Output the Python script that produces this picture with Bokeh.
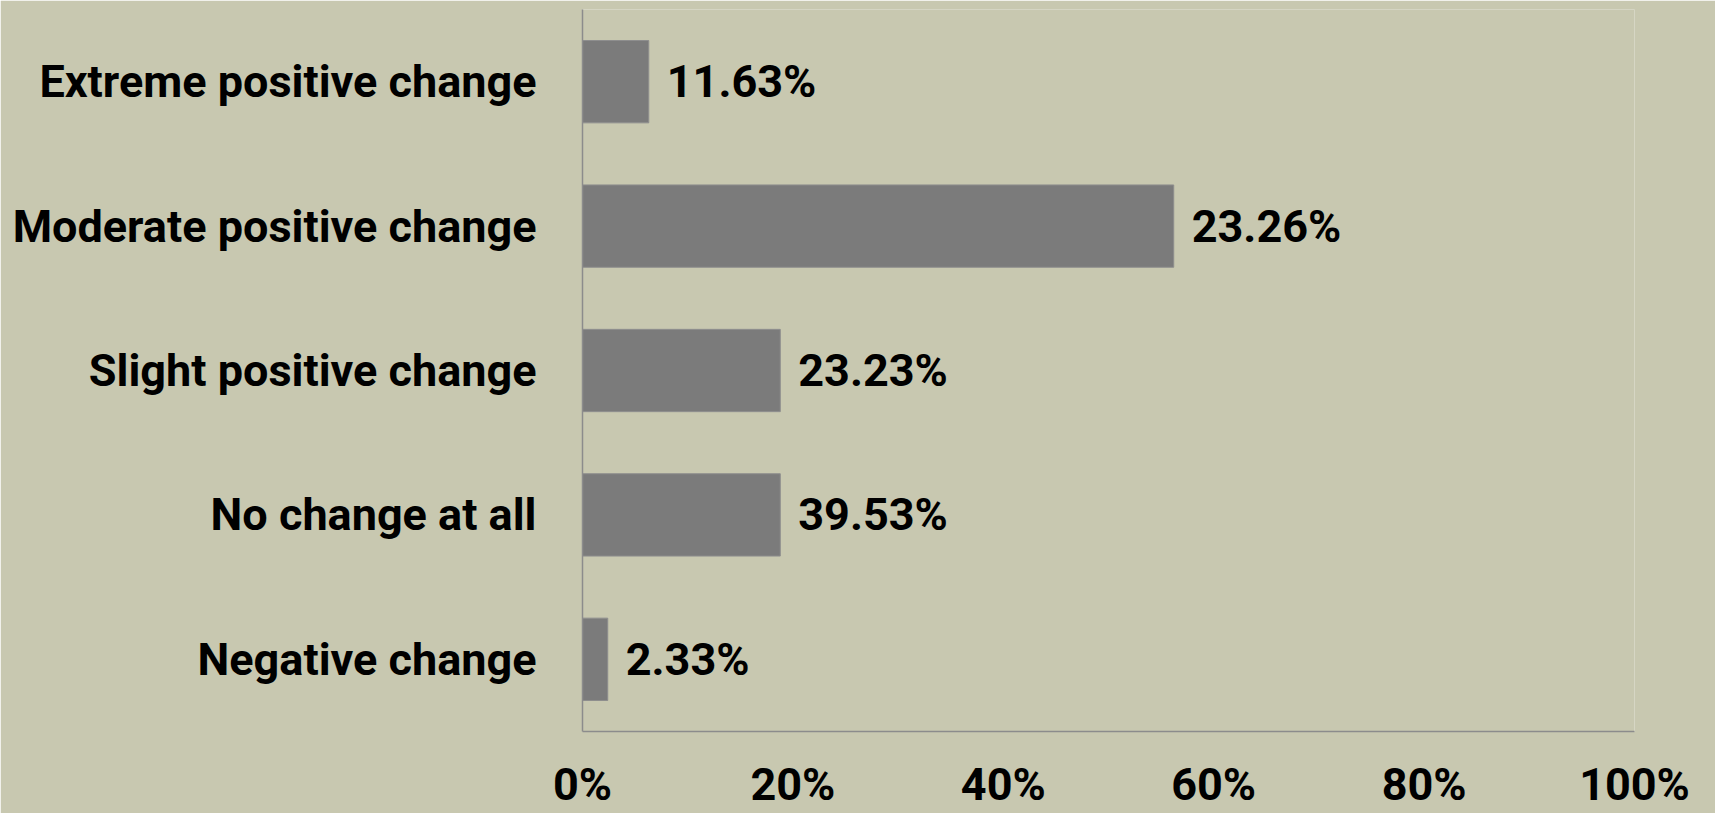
from bokeh.plotting import figure
from bokeh.models import ColumnDataSource, FixedTicker, Range1d, FactorRange
from bokeh.core.properties import value
from bokeh.embed import file_html
from bokeh.resources import INLINE

categories = ["Negative change", "No change at all", "Slight positive change",
              "Moderate positive change", "Extreme positive change"]
bar_values = [2.4, 18.8, 18.8, 56.2, 6.3]
value_labels = ["2.33%", "39.53%", "23.23%", "23.26%", "11.63%"]
tick_values = [0, 20, 40, 60, 80, 100]
tick_labels = ["0%", "20%", "40%", "60%", "80%", "100%"]

BG = "#C8C8B0"
FONT = "Roboto"

src = ColumnDataSource(dict(cat=categories, val=bar_values, lab=value_labels))

p = figure(width=1715, height=813, y_range=FactorRange(*categories, range_padding=0),
           x_range=Range1d(0, 100), output_backend="svg", toolbar_location=None,
           min_border_left=582, min_border_right=81, min_border_top=9, min_border_bottom=0)
p.background_fill_color = BG
p.border_fill_color = BG
p.outline_line_color = None
p.grid.grid_line_color = None

p.hbar(y="cat", right="val", left=0, height=0.57, source=src,
       fill_color="#7B7B7B", line_color="#8E8E8E", line_width=1)
p.text(x="val", y="cat", text="lab", source=src, x_offset=18,
       text_align="left", text_baseline="middle", text_color="black",
       text_font=value(FONT), text_font_size="45px", text_font_style="bold")

p.xaxis.ticker = FixedTicker(ticks=tick_values)
p.xaxis.major_label_overrides = {v: l for v, l in zip(tick_values, tick_labels)}
for ax in (p.xaxis[0], p.yaxis[0]):
    ax.axis_line_color = "#8C8C8C"
    ax.axis_line_width = 1.5
    ax.major_tick_line_color = None
    ax.minor_tick_line_color = None
    ax.major_label_text_font = FONT
    ax.major_label_text_font_size = "45px"
    ax.major_label_text_font_style = "bold"
    ax.major_label_text_color = "black"
p.xaxis.major_label_standoff = 20
p.yaxis.major_label_standoff = 40

open("out.html", "w").write(file_html(p, INLINE))
